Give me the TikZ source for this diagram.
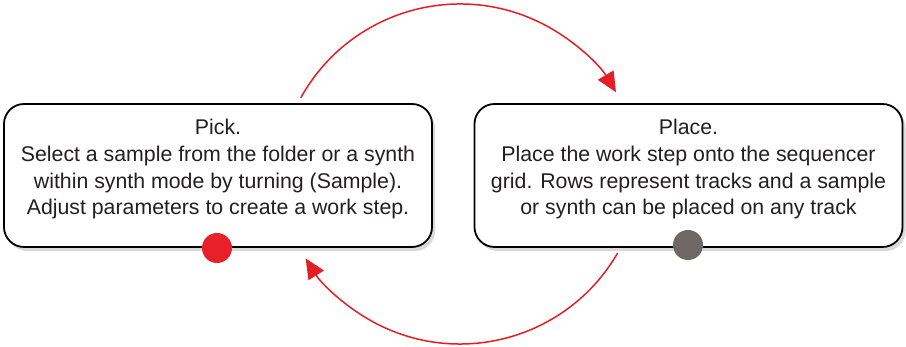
\documentclass[tikz,border=0pt]{standalone}
\usepackage{fontspec}
\setmainfont{Liberation Sans}
\usetikzlibrary{arrows.meta,shadows}
\definecolor{myred}{HTML}{E31E24}
\definecolor{dotred}{HTML}{E8202A}
\definecolor{dotgray}{HTML}{6D6865}
\definecolor{textgray}{HTML}{231F20}
\begin{document}
\begin{tikzpicture}[x=1pt,y=1pt,
  box/.style={draw=black, line width=1.8pt, rounded corners=20pt, fill=white,
    minimum width=428pt, minimum height=143pt, inner sep=0pt,
    drop shadow={shadow xshift=3pt, shadow yshift=-4pt, fill=black!15, opacity=1}},
  txt/.style={align=center, font=\fontsize{21.3}{26.7}\selectfont, text=textgray, inner sep=0pt},
  dot/.style={circle, minimum size=30pt, inner sep=0pt},
  flow/.style={draw=myred, line width=1.5pt, -{Triangle[length=20pt,width=18pt]}}]
\useasboundingbox (0,0) rectangle (906,347);
\node[box] (pickbox) at (218,171.5) {};
\node[box] (placebox) at (688.5,171.5) {};
\node[txt, anchor=base] (picktext) at (218,132) {Pick.\\Select a sample from the folder or a synth\\within synth mode by turning (Sample).\\Adjust parameters to create a work step.};
\node[txt, anchor=base] (placetext) at (688.5,132) {Place.\\Place the work step onto the sequencer\\grid. Rows represent tracks and a sample\\or synth can be placed on any track};
\node[dot, fill=dotred] (reddot) at (217,99) {};
\node[dot, fill=dotgray] (graydot) at (688,102) {};
\coordinate (topc) at (460,161);
\coordinate (botc) at (460,185);
\draw[flow] ([shift={(151:182)}]topc) arc[start angle=151, end angle=31, radius=182];
\draw[flow] ([shift={(-30:182)}]botc) arc[start angle=-30, end angle=-148, radius=182];
\end{tikzpicture}
\end{document}
